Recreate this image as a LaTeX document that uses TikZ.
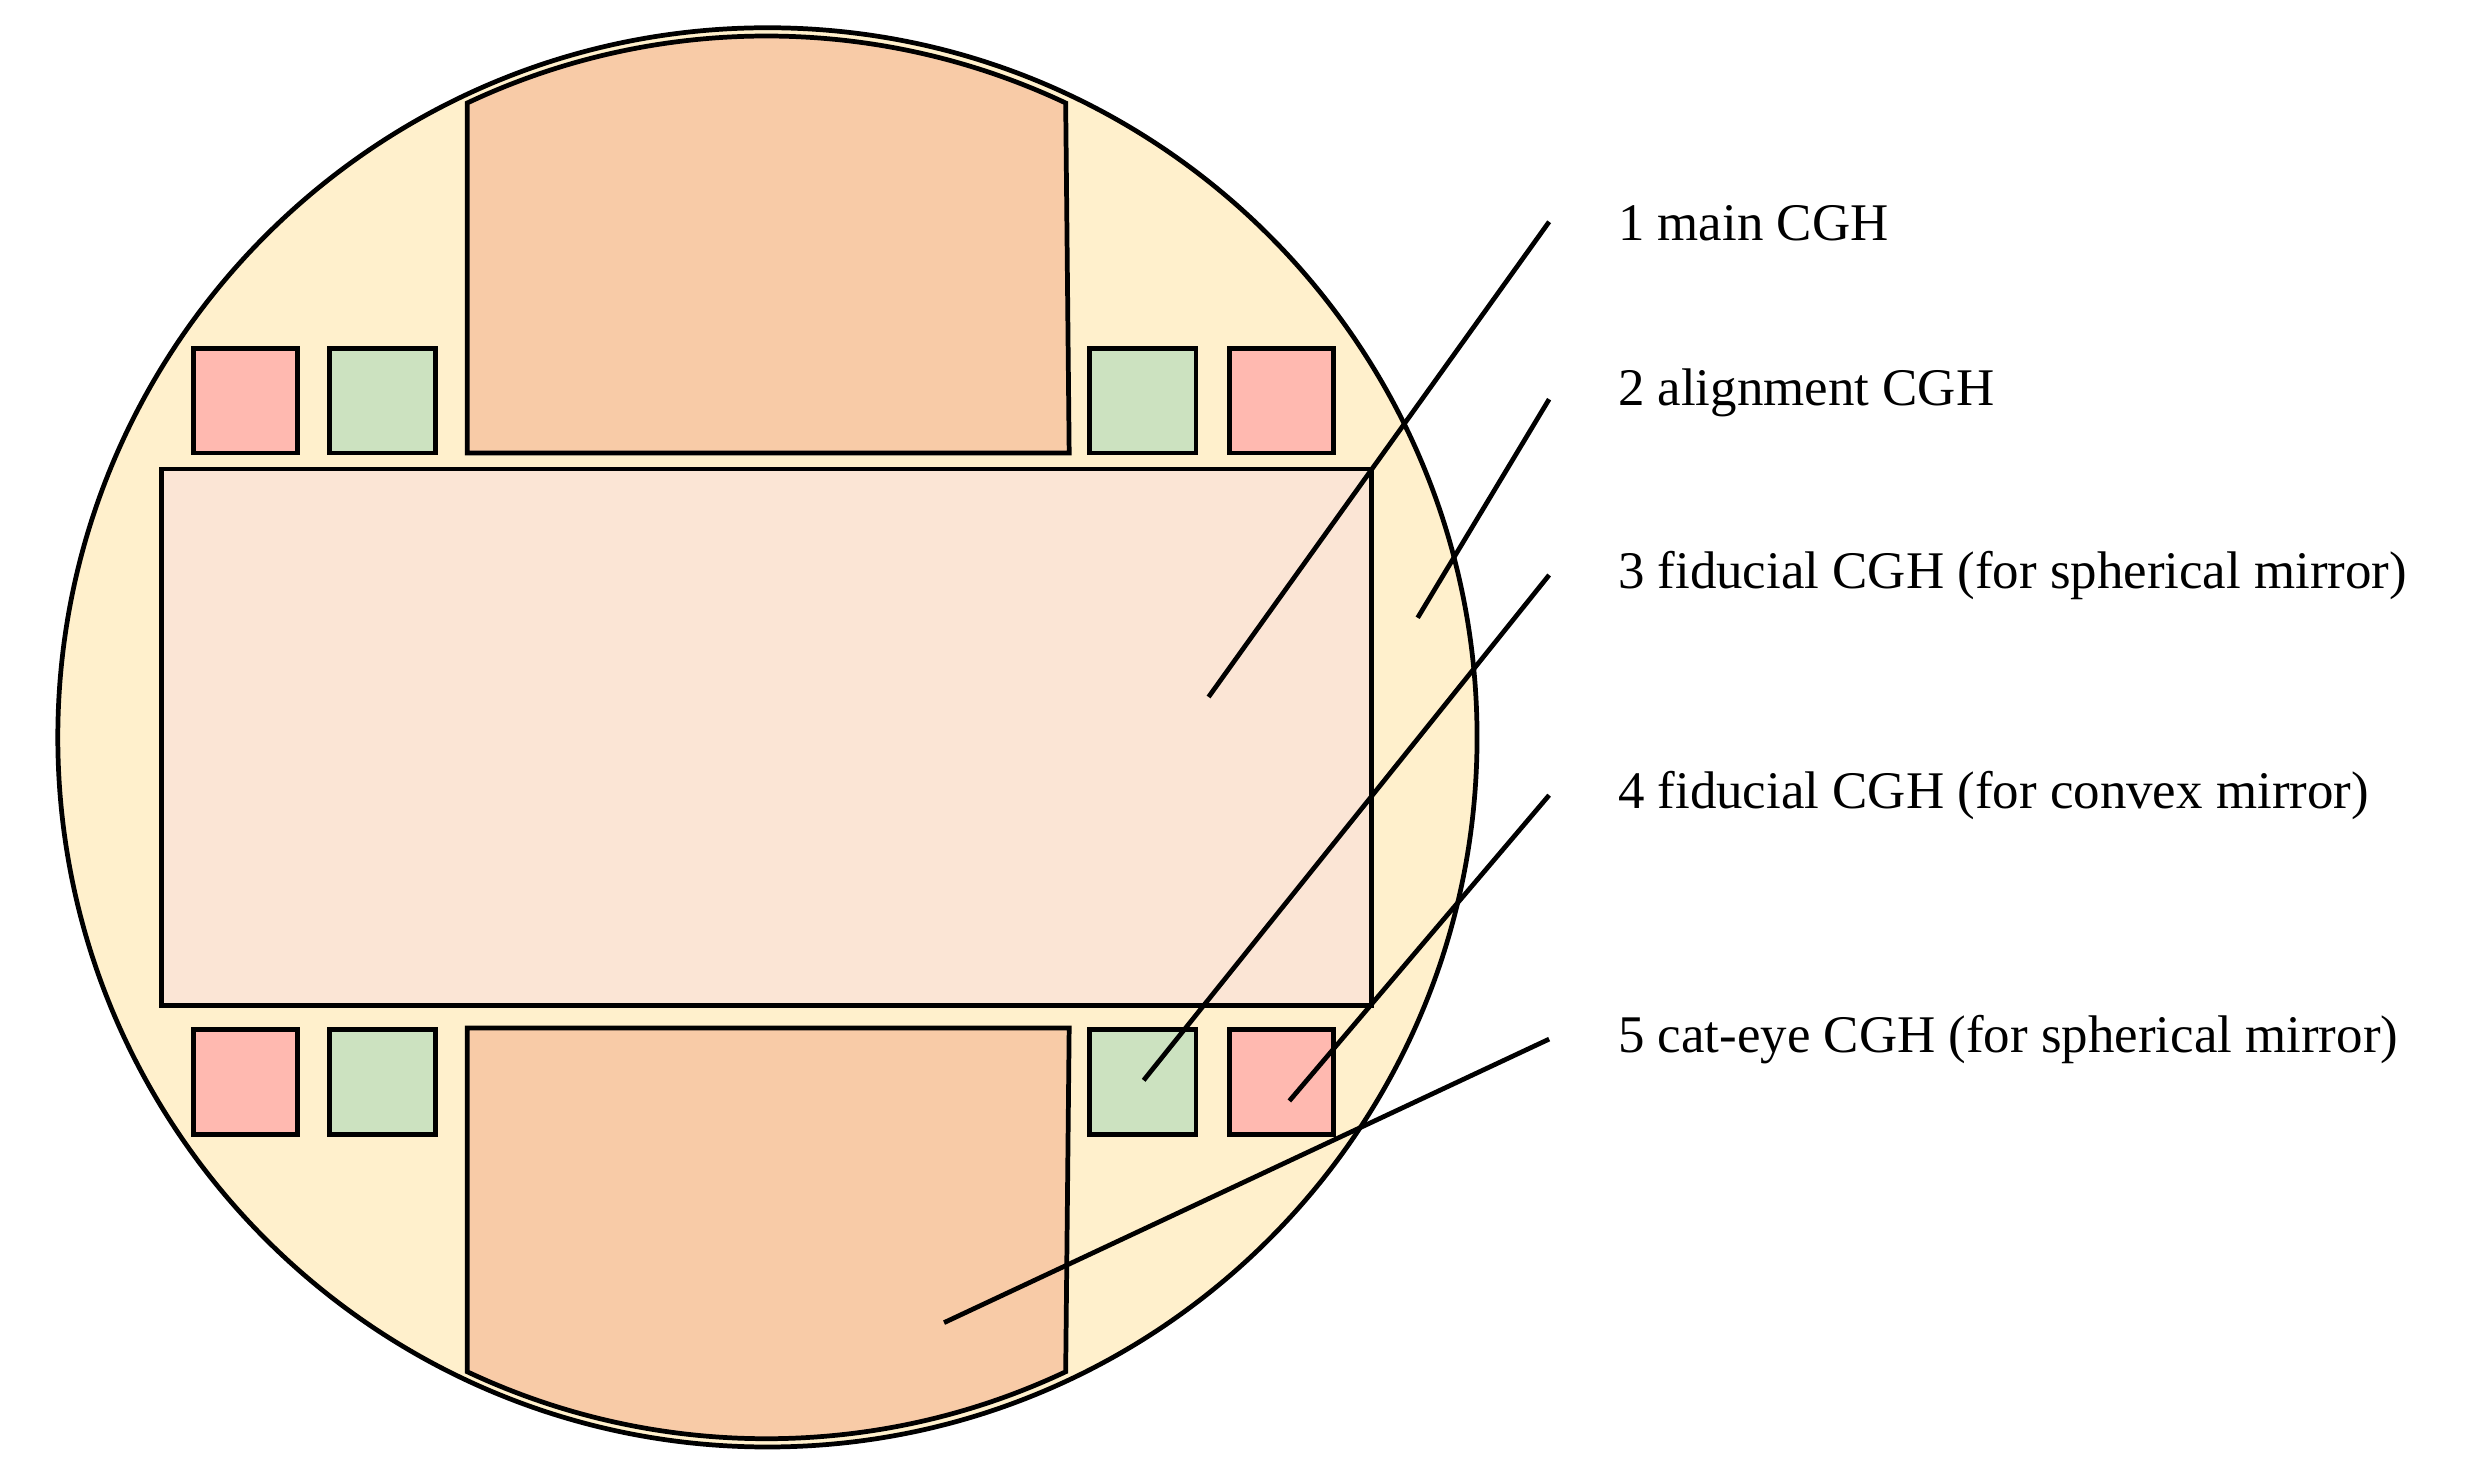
\documentclass[tikz,border=0pt]{standalone}
\usepackage{fontspec}
\setmainfont{Liberation Serif}
\begin{document}
\begin{tikzpicture}[x=0.01cm,y=-0.01cm,line width=0.85pt,
  lbl/.style={anchor=west,font=\fontsize{9.5}{11}\selectfont,inner sep=0},
  pinkbox/.style={draw,fill=pinkc},greenbox/.style={draw,fill=greenc}]
\definecolor{basec}{HTML}{FFF0CC}
\definecolor{peachc}{HTML}{F8CBA7}
\definecolor{lightc}{HTML}{FBE5D5}
\definecolor{pinkc}{HTML}{FFB9B0}
\definecolor{greenc}{HTML}{CCE2C0}
\useasboundingbox (0,0) rectangle (1560,920);
\coordinate (O) at (484.5,465.5);
\draw[fill=basec] (O) circle[radius=448];
\draw[fill=peachc] (295,286) -- (295,65) arc[start angle=244.76,end angle=295.24,radius=443] -- (675,286) -- cycle;
\draw[fill=peachc] (295,649) -- (295,866) arc[start angle=115.24,end angle=64.76,radius=443] -- (675,649) -- cycle;
\draw[fill=lightc] (102,296) rectangle (866,635);
\draw[pinkbox] (122,220) rectangle (188,286);
\draw[greenbox] (208,220) rectangle (275,286);
\draw[greenbox] (688,220) rectangle (755,286);
\draw[pinkbox] (776,220) rectangle (842,286);
\draw[pinkbox] (122,650) rectangle (188,716);
\draw[greenbox] (208,650) rectangle (275,716);
\draw[greenbox] (688,650) rectangle (755,716);
\draw[pinkbox] (776,650) rectangle (842,716);
\node[lbl] (l1) at (1020,141) {1 main CGH};
\node[lbl] (l2) at (1020,248) {2 alignment CGH};
\node[lbl] (l3) at (1020,363) {3 fiducial CGH (for spherical mirror)};
\node[lbl] (l4) at (1020,502) {4 fiducial CGH (for convex mirror)};
\node[lbl] (l5) at (1020,656) {5 cat-eye CGH (for spherical mirror)};
\coordinate (s1) at (978,140); \coordinate (e1) at (763,440);
\coordinate (s2) at (978,252); \coordinate (e2) at (895,390);
\coordinate (s3) at (978,363); \coordinate (e3) at (722,682);
\coordinate (s4) at (978,502); \coordinate (e4) at (814,695);
\coordinate (s5) at (978,656); \coordinate (e5) at (596,835);
\foreach \i in {1,...,5} \draw (s\i) -- (e\i);
\end{tikzpicture}
\end{document}
